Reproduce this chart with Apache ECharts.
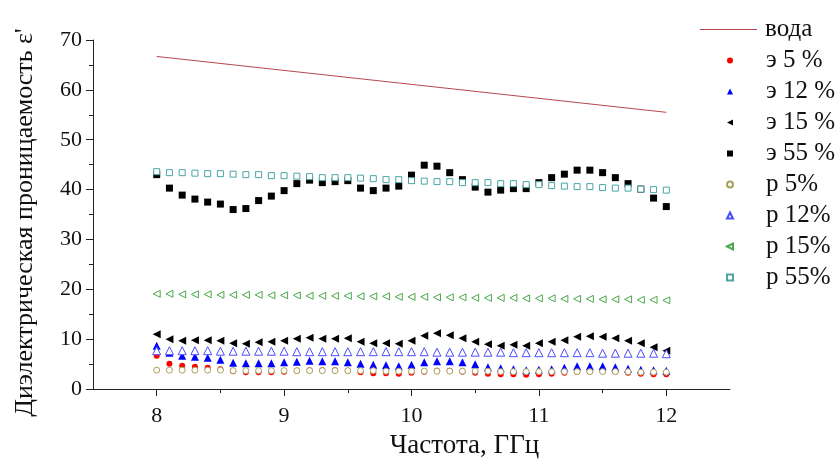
<!DOCTYPE html>
<html>
<head>
<meta charset="utf-8">
<script src="https://cdn.jsdelivr.net/npm/echarts@6/dist/echarts.min.js"></script>
<style>
  html, body { margin: 0; padding: 0; background: #fff; }
  #chart { width: 837px; height: 464px; }
</style>
</head>
<body>
<div id="chart"></div>
<script>
// частоты измерений, ГГц
const freq = [8.0, 8.1, 8.2, 8.3, 8.4, 8.5, 8.6, 8.7, 8.8, 8.9,
  9.0, 9.1, 9.2, 9.3, 9.4, 9.5, 9.6, 9.7, 9.8, 9.9,
  10.0, 10.1, 10.2, 10.3, 10.4, 10.5, 10.6, 10.7, 10.8, 10.9,
  11.0, 11.1, 11.2, 11.3, 11.4, 11.5, 11.6, 11.7, 11.8, 11.9, 12.0]

// вода (прямая)
const waterFreq = [8, 10, 12]
const water = [66.7, 61.1, 55.5]

const e5 = [6.7, 5.1, 4.7, 4.5, 4.3, 4.0, 3.6, 3.4, 3.4, 3.4,
  3.5, 3.7, 3.8, 3.8, 3.8, 3.7, 3.4, 3.2, 3.2, 3.1,
  3.3, 3.5, 3.7, 3.7, 3.5, 3.3, 3.1, 3.0, 3.0, 2.9,
  3.0, 3.1, 3.3, 3.5, 3.6, 3.6, 3.5, 3.3, 3.1, 3.0, 3.0]

const e12 = [8.7, 7.3, 6.7, 6.5, 6.3, 5.9, 5.3, 5.2, 5.2, 5.2,
  5.4, 5.5, 5.7, 5.6, 5.6, 5.4, 5.1, 4.9, 4.8, 4.6,
  4.9, 5.4, 5.6, 5.6, 5.4, 5.0, 4.4, 4.2, 4.0, 3.8,
  3.9, 4.0, 4.3, 4.6, 4.6, 4.6, 4.4, 4.1, 3.9, 3.8, 3.7]

const e15 = [11.0, 10.0, 9.7, 9.8, 9.8, 9.7, 9.2, 9.1, 9.4, 9.5,
  9.7, 10.1, 10.3, 10.1, 10.1, 10.2, 9.5, 9.2, 9.2, 9.1,
  9.7, 10.7, 11.2, 10.8, 10.2, 9.5, 9.0, 8.7, 8.9, 8.7,
  9.2, 9.5, 9.8, 10.5, 10.6, 10.5, 10.2, 9.7, 9.2, 8.4, 7.7]

const e55 = [43.0, 40.3, 38.9, 38.1, 37.5, 37.1, 36.0, 36.2, 37.8, 38.7,
  39.8, 41.2, 41.9, 41.4, 41.6, 41.8, 40.3, 39.8, 40.3, 40.7,
  42.9, 44.9, 44.7, 43.4, 42.0, 40.5, 39.5, 39.9, 40.2, 40.2,
  41.4, 42.4, 43.1, 43.9, 43.9, 43.4, 42.4, 41.2, 40.1, 38.3, 36.6]

const p5 = [3.8, 3.8, 3.8, 3.8, 3.8, 3.8, 3.7, 3.7, 3.7, 3.7,
  3.7, 3.7, 3.7, 3.7, 3.7, 3.7, 3.7, 3.7, 3.6, 3.6,
  3.6, 3.6, 3.6, 3.6, 3.6, 3.6, 3.6, 3.5, 3.5, 3.5,
  3.5, 3.5, 3.5, 3.5, 3.5, 3.5, 3.5, 3.5, 3.4, 3.4, 3.4]

const p12 = [7.7, 7.7, 7.7, 7.7, 7.7, 7.6, 7.6, 7.6, 7.6, 7.6,
  7.6, 7.5, 7.5, 7.5, 7.5, 7.5, 7.5, 7.5, 7.5, 7.5,
  7.5, 7.5, 7.4, 7.4, 7.4, 7.4, 7.4, 7.4, 7.3, 7.3,
  7.3, 7.3, 7.3, 7.3, 7.3, 7.2, 7.2, 7.2, 7.2, 7.2, 7.1]

const p15 = [19.1, 19.1, 19.0, 19.0, 19.0, 18.9, 18.9, 18.9, 18.9, 18.8,
  18.8, 18.8, 18.7, 18.7, 18.7, 18.7, 18.6, 18.6, 18.6, 18.5,
  18.5, 18.5, 18.4, 18.4, 18.4, 18.3, 18.3, 18.3, 18.3, 18.2,
  18.2, 18.2, 18.1, 18.1, 18.1, 18.0, 18.0, 18.0, 17.9, 17.9, 17.8]

const p55 = [43.6, 43.4, 43.4, 43.3, 43.2, 43.2, 43.1, 43.0, 43.0, 42.8,
  42.8, 42.7, 42.6, 42.4, 42.4, 42.4, 42.3, 42.2, 42.0, 42.0,
  41.8, 41.7, 41.6, 41.6, 41.4, 41.4, 41.4, 41.2, 41.2, 41.0,
  41.0, 40.8, 40.7, 40.6, 40.6, 40.4, 40.3, 40.3, 40.1, 40.0, 39.9]

const xMajor = [8, 9, 10, 11, 12]
const xMinor = [8.5, 9.5, 10.5, 11.5]

const font = 'Liberation Serif, Times New Roman, serif'
const axisColor = '#222'
const textColor = '#111'
const leftTriangle = 'path://M0,5L10,0L10,10Z'

// пара [x, y] для scatter
const pairs = (xs, ys) => xs.map((x, i) => [x, ys[i]])

// точечная серия (сплошной маркер)
const dots = (name, values, symbol, size, color, rotate) => ({
  name,
  type: 'scatter',
  data: pairs(freq, values),
  symbol,
  symbolSize: size,
  symbolRotate: rotate || 0,
  itemStyle: { color, opacity: 1 },
  emphasis: { disabled: true },
})

// точечная серия (полый маркер)
const rings = (name, values, symbol, size, color, rotate) => ({
  name,
  type: 'scatter',
  data: pairs(freq, values),
  symbol,
  symbolSize: size,
  symbolRotate: rotate || 0,
  itemStyle: { color: '#fff', borderColor: color, borderWidth: 1, opacity: 1 },
  emphasis: { disabled: true },
})

const legendText = { fontFamily: font, fontSize: 25, color: textColor, lineHeight: 25 }

const option = {
  animation: false,
  textStyle: { fontFamily: font },
  grid: { left: 93, right: 107, top: 40, bottom: 71, containLabel: false },
  legend: [
    {
      orient: 'vertical',
      left: 700,
      top: 17,
      padding: 0,
      itemWidth: 57,
      itemHeight: 1,
      icon: 'rect',
      textStyle: Object.assign({ padding: [0, 0, 0, 3] }, legendText),
      data: ['вода'],
    },
    {
      orient: 'vertical',
      left: 726,
      top: 48,
      padding: 0,
      itemWidth: 6,
      itemHeight: 6,
      itemGap: 6,
      textStyle: Object.assign({ padding: [0, 0, 0, 28] }, legendText),
      data: [
        'э 5 %',
        'э 12 %',
        { name: 'э 15 %', icon: leftTriangle },
        'э 55 %',
        'р 5%',
        'р 12%',
        { name: 'р 15%', icon: leftTriangle },
        'р 55%',
      ],
    },
  ],
  xAxis: [
    {
      type: 'value',
      min: 7.5,
      max: 12.5,
      name: 'Частота, ГГц',
      nameLocation: 'middle',
      nameGap: 39,
      nameTextStyle: { fontFamily: font, fontSize: 27, color: textColor, padding: [0, 0, 0, 106] },
      axisLine: { show: true, lineStyle: { color: axisColor, width: 1 } },
      axisTick: { show: true, customValues: xMajor, length: 7, lineStyle: { color: axisColor } },
      axisLabel: { customValues: xMajor, fontFamily: font, fontSize: 22, color: textColor, margin: 16 },
      splitLine: { show: false },
    },
    {
      type: 'value',
      min: 7.5,
      max: 12.5,
      position: 'bottom',
      axisLine: { show: false },
      axisTick: { show: true, customValues: xMinor, length: 4, lineStyle: { color: axisColor } },
      axisLabel: { show: false },
      splitLine: { show: false },
    },
  ],
  yAxis: {
    type: 'value',
    min: 0,
    max: 70,
    interval: 10,
    name: 'Диэлектрическая проницаемость ε\'',
    nameLocation: 'middle',
    nameGap: 55,
    nameTextStyle: { fontFamily: font, fontSize: 26, color: textColor, padding: [0, 16, 0, 0] },
    axisLine: { show: true, lineStyle: { color: axisColor, width: 1 } },
    axisTick: { show: true, length: 7, lineStyle: { color: axisColor } },
    minorTick: { show: true, splitNumber: 2, length: 4, lineStyle: { color: axisColor } },
    axisLabel: { fontFamily: font, fontSize: 22, color: textColor, margin: 11 },
    splitLine: { show: false },
  },
  series: [
    {
      name: 'вода',
      type: 'line',
      data: pairs(waterFreq, water),
      symbol: 'none',
      lineStyle: { color: '#b5474a', width: 1 },
      itemStyle: { color: '#b5474a' },
      emphasis: { disabled: true },
    },
    dots('э 5 %', e5, 'circle', 6, '#ff0000'),
    dots('э 12 %', e12, 'triangle', 8, '#0000ff'),
    dots('э 15 %', e15, 'triangle', 8, '#000000', 90),
    dots('э 55 %', e55, 'rect', 7, '#000000'),
    rings('р 5%', p5, 'circle', 6, '#a89f5a'),
    rings('р 12%', p12, 'triangle', 8, '#4b4bff'),
    rings('р 15%', p15, 'triangle', 7, '#4aa84a', 90),
    rings('р 55%', p55, 'rect', 6, '#4aa5a5'),
  ],
}

const chart = echarts.init(document.getElementById('chart'))
chart.setOption(option)
</script>
</body>
</html>
